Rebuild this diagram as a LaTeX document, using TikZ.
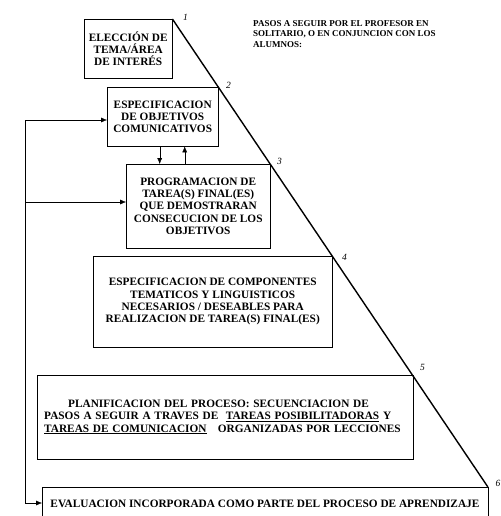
\documentclass[tikz,border=0pt]{standalone}
\usepackage{fontspec}
\setmainfont{Liberation Serif}
\usetikzlibrary{arrows.meta, positioning, calc}

\begin{document}
\begin{tikzpicture}[x=1pt, y=-1pt,
        stage/.style={draw, rectangle, anchor=north west, align=center, inner sep=4pt, font=\fontsize{11.3}{12.2}\selectfont\bfseries},
        num/.style={font=\fontsize{9.5}{10}\selectfont\itshape, inner sep=0pt},
        flow/.style={-{Latex[length=6pt, width=5pt]}, thin}]
        \useasboundingbox (0,0) rectangle (500,516);

        % Nodes
        \node (b1) [stage, minimum width=88pt, minimum height=59pt] at (84,19) {ELECCIÓN DE\\TEMA/ÁREA\\DE INTERÉS};
        \node (b2) [stage, minimum width=111pt, minimum height=59pt] at (107,87) {ESPECIFICACION\\DE OBJETIVOS\\COMUNICATIVOS};
        \node (b3) [stage, minimum width=144pt, minimum height=84pt] at (126,164) {PROGRAMACION DE\\TAREA(S) FINAL(ES)\\QUE DEMOSTRARAN\\CONSECUCION DE LOS\\OBJETIVOS};
        \node (b4) [stage, minimum width=239pt, minimum height=91pt] at (93,256) {ESPECIFICACION DE COMPONENTES\\TEMATICOS Y LINGUISTICOS\\NECESARIOS / DESEABLES PARA\\REALIZACION DE TAREA(S) FINAL(ES)};
        \node (b5) [stage, align=left, text width=362pt, inner xsep=7pt, minimum height=84pt] at (37,375) {\hspace*{24pt}PLANIFICACION DEL PROCESO: SECUENCIACION DE\\PASOS A SEGUIR A TRAVES DE\ \ \underline{TAREAS POSIBILITADORAS} Y\\\underline{TAREAS DE COMUNICACION}\ \ \ ORGANIZADAS POR LECCIONES};
        \node (b6) [stage, minimum width=445.5pt, minimum height=34pt] at (42,487) {EVALUACION INCORPORADA COMO PARTE DEL PROCESO DE APRENDIZAJE};

        \node (title) [anchor=north west, align=left, inner sep=0pt, font=\fontsize{9}{10.5}\selectfont\bfseries] at (253,20) {PASOS A SEGUIR POR EL PROFESOR EN\\SOLITARIO, O EN CONJUNCION CON LOS\\ALUMNOS:};

        \node (n1) [num] at ($(b1.north east)+(13,-2)$) {1};
        \node (n2) [num] at ($(b2.north east)+(10,-2)$) {2};
        \node (n3) [num] at ($(b3.north east)+(9,-3)$) {3};
        \node (n4) [num] at ($(b4.north east)+(12,1)$) {4};
        \node (n5) [num] at ($(b5.north east)+(9,-8)$) {5};
        \node (n6) [num] at ($(b6.north east)+(10,-4)$) {6};

        % Arrows
        \coordinate (fb1) at (25,120);
        \coordinate (fb2) at (25,202);
        \coordinate (fb3) at (25,503);
        \draw[flow] (fb1) -- (fb1 -| b2.west);
        \draw[flow] (fb2) -- (fb2 -| b3.west);
        \draw[flow] (fb1) -- (fb3) -- (fb3 -| b6.west);
        \draw[flow] ([xshift=-3pt]b2.south) -- ([xshift=-3pt]b2.south |- b3.north);
        \draw[flow] ([xshift=22pt]b2.south |- b3.north) -- ([xshift=22pt]b2.south);
        \draw[line width=1.4pt] (b1.north east) -- (b6.north east);
\end{tikzpicture}
\end{document}
